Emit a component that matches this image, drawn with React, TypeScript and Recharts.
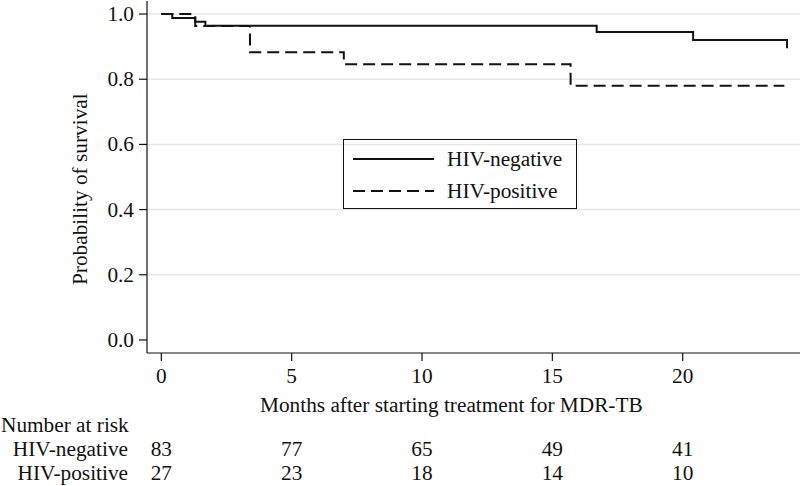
import { LineChart, Line, XAxis, YAxis, CartesianGrid, Legend } from 'recharts';

// Kaplan-Meier steps (months, survival)
const negTimes = [0, 0.42, 1.3, 1.69, 16.7, 20.4, 24.0];
const negSurv = [1.0, 0.988, 0.976, 0.964, 0.945, 0.92, 0.895];
const posTimes = [0, 1.3, 3.4, 7.0, 15.7, 23.9];
const posSurv = [1.0, 0.963, 0.883, 0.846, 0.78, 0.78];

const xTicks = [0, 5, 10, 15, 20];
const yTicks = [0, 0.2, 0.4, 0.6, 0.8, 1.0];
const riskNeg = [83, 77, 65, 49, 41];
const riskPos = [27, 23, 18, 14, 10];

const seriesNames = ['HIV-negative', 'HIV-positive'];

const negData = negTimes.map((t, i) => ({ t, s: negSurv[i] }));
const posData = posTimes.map((t, i) => ({ t, s: posSurv[i] }));

const FONT = "'Liberation Serif', 'Times New Roman', serif";
const FS = 21.3;
const INK = '#111';

const XTick = (props: any) => {
    const { x, payload, index } = props;
    return (
        <g fontFamily={FONT} fontSize={FS} fill={INK}>
            <text x={x} y={383} textAnchor="middle">{payload.value}</text>
            <text x={x} y={456} textAnchor="middle">{riskNeg[index]}</text>
            <text x={x} y={480} textAnchor="middle">{riskPos[index]}</text>
            {index === 0 && (
                <>
                    <text x={260} y={412}>Months after starting treatment for MDR-TB</text>
                    <text x={1} y={432}>Number at risk</text>
                    <text x={128} y={456} textAnchor="end">{seriesNames[0]}</text>
                    <text x={128} y={480} textAnchor="end">{seriesNames[1]}</text>
                </>
            )}
        </g>
    );
};

const YTick = (props: any) => {
    const { x, y, payload } = props;
    return (
        <text x={x} y={y} dy={7} textAnchor="end" fontFamily={FONT} fontSize={FS} fill={INK}>
            {payload.value.toFixed(1)}
        </text>
    );
};

const YLabel = () => (
    <text
        x={87}
        y={285}
        transform="rotate(-90, 87, 285)"
        fontFamily={FONT}
        fontSize={FS}
        fill={INK}
    >
        Probability of survival
    </text>
);

const LegendBox = () => (
    <div
        style={{
            width: 232,
            height: 68,
            border: `1.5px solid ${INK}`,
            fontFamily: FONT,
            fontSize: FS,
            color: INK,
            boxSizing: 'content-box',
            position: 'relative',
        }}
    >
        {seriesNames.map((name, i) => (
            <div key={name} style={{ position: 'absolute', left: 0, top: 5 + i * 32, height: 28, display: 'flex', alignItems: 'center' }}>
                <svg width={81} height={10} style={{ marginLeft: 9 }}>
                    <line x1={0} x2={81} y1={5} y2={5} stroke={INK} strokeWidth={2} strokeDasharray={i === 1 ? '12 6' : undefined} />
                </svg>
                <span style={{ marginLeft: 13, lineHeight: '28px' }}>{name}</span>
            </div>
        ))}
    </div>
);

export default function App() {
    return (
        <div style={{ position: 'absolute', left: 0, top: 0, width: 800, height: 486, background: '#fff' }}>
            <LineChart width={800} height={486} margin={{ top: 1, right: 0, bottom: 0, left: 0 }}>
                <CartesianGrid vertical={false} horizontalValues={[0.2, 0.4, 0.6, 0.8, 1.0]} stroke="#e6e6e6" strokeWidth={1.5} />
                <XAxis
                    type="number"
                    dataKey="t"
                    domain={[-0.55, 24.5]}
                    ticks={xTicks}
                    allowDataOverflow
                    height={133}
                    tickSize={8}
                    tickLine={{ stroke: INK, strokeWidth: 1.2 }}
                    axisLine={{ stroke: INK, strokeWidth: 1.2 }}
                    tick={<XTick />}
                    interval={0}
                />
                <YAxis
                    type="number"
                    domain={[-0.04, 1.04]}
                    ticks={yTicks}
                    allowDataOverflow
                    width={147}
                    tickSize={8}
                    tickMargin={5}
                    tickLine={{ stroke: INK, strokeWidth: 1.2 }}
                    axisLine={{ stroke: INK, strokeWidth: 1.2 }}
                    tick={<YTick />}
                    interval={0}
                    label={<YLabel />}
                />
                <Legend
                    layout="horizontal"
                    verticalAlign="middle"
                    align="center"
                    content={<LegendBox />}
                    wrapperStyle={{ left: 343, top: 139, width: 235, height: 71 }}
                />
                <Line
                    data={negData}
                    dataKey="s"
                    name={seriesNames[0]}
                    type="stepAfter"
                    stroke={INK}
                    strokeWidth={2}
                    dot={false}
                    activeDot={false}
                    isAnimationActive={false}
                />
                <Line
                    data={posData}
                    dataKey="s"
                    name={seriesNames[1]}
                    type="stepAfter"
                    stroke={INK}
                    strokeWidth={2}
                    strokeDasharray="12 6"
                    dot={false}
                    activeDot={false}
                    isAnimationActive={false}
                />
            </LineChart>
        </div>
    );
}
